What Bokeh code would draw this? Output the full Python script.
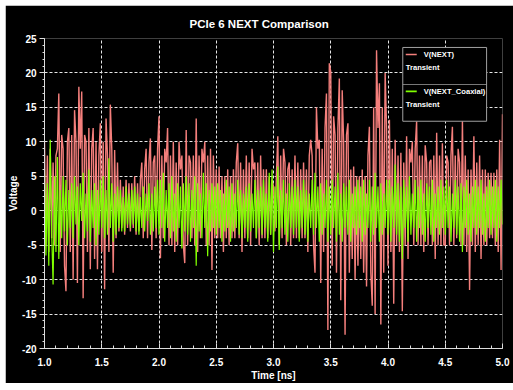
import numpy as np
from bokeh.plotting import figure
from bokeh.models import Range1d, FixedTicker, BoxAnnotation, Label, Spacer
from bokeh.layouts import column, row
from bokeh.embed import file_html
from bokeh.resources import INLINE

title_text = "PCIe 6 NEXT Comparison"
x_label = "Time [ns]"
y_label = "Voltage"
x_ticks = [1.0, 1.5, 2.0, 2.5, 3.0, 3.5, 4.0, 4.5, 5.0]
x_tick_labels = ["1.0", "1.5", "2.0", "2.5", "3.0", "3.5", "4.0", "4.5", "5.0"]
y_ticks = [-20, -15, -10, -5, 0, 5, 10, 15, 20, 25]
y_tick_labels = ["-20", "-15", "-10", "-5", "0", "5", "10", "15", "20", "25"]
series_names = ["V(NEXT)", "V(NEXT_Coaxial)"]
series_sub = ["Transient", "Transient"]
series_colors = ["#f47f7c", "#80ff00"]
t_start, t_end = 1.0, 5.0

# V(NEXT) samples, 0.0125 ns apart
v_next = [
    10, -5, 8, -6, 9, -4, 7, -5, 8, 9, 17, -6, 11, 9, -8, -11.7, 10, 12, -6, 11,
    -10, 14.6, 10, -10.5, 18, 9, 17.3, -12.7, 11, 10, -6, 12, -8.5, 9, 12, -7, 10, -8.5, 8, 12.7,
    -6, 10, -11.4, 13.4, 8, -6, 15.4, 9, -9, 8.8, -4, 7, -3, 4.5, -2.5, 3.5, -3.5, 4.5, -2.5, 4,
    -3, 4, -2.5, 5, -3.5, 4, -3, 4.5, 7, -4, 6, 9, -4, 7, 10.5, -5.7, 7, 8, -4, 9,
    13.7, -6.9, 8, -4, 9, 7, 12, -5, 8, -5, 10, -6, 7, -5, 10, 6, 8, -5, -7.6, 11.7,
    -5, 8, 7, -4, 8, -5, 13.4, -6, 8, -4, 9, 7, 10, -5, 8, -5, 9, -8.6, 8, -4,
    6, -4, 6.4, -4, 5, -6, 5, -4, 6, -5, 5, -4, 6, -4, 7, 9.8, -4, 7, -6, 6,
    -4, 8, -4, 7, -5, 9, 6, 7, -4, 7, -5, 8, -4, 6, -4, 6, -4, 5, -3.5, 4.5,
    3.5, -3, 5, 10.8, -5, 8, -4, 9, 7, -5, 6, 7, -5, 6, -4, 8, -4, 7, -4, 6,
    -4, 7, -4, 6, -6, 8, 10.3, 8, -5, -9, 15, 9, 10.3, -10.5, 9, -6, 12, 17, -17.3, 21.4,
    20.2, -8, 13.7, 11, -9, 12, 19.2, -13, 17.5, 10, -18, 11, 12.7, -9, 6, -7, 6.4, -10, 5, -8,
    5, -7, 6, -9, 5, -11, 8, 12.2, -9, -13.8, 15, -15, 23.3, 12, 18.5, -16.5, 15, -9, 20, 12,
    -8, 13.2, -6, 9, -13.5, 10.3, -5, 8, -6, 8.4, -14.6, 7, -5, 10.8, -7, 9, 7, 10, -5, 9,
    13, -5, 8, -5, 8, -6, 9.5, 7, -5, 7, 7.4, -5, 8, -7, 11.3, -5, 8, -5, 9.8, -5,
    -5, 8, 7, -5, 8, 12.2, -5, 8, -4, 9, 7, -5, 13.2, -5, 8, -6, 6, -11.5, 6, -5,
    10.8, -6, 7, -5, 8, -7, 6, -5, 6, -5, 5.5, -4, 5.5, -4, 5.5, -5, 6, -6, 10.3, -8.6,
    14,
]

# V(NEXT_Coaxial) samples, 0.0125 ns apart
v_coax = [
    6, -6.5, 4, -8, 10.3, -3, -10.7, 5, -6, 7.8, -7, 3, -4, 5, -3, 4.5, -5, 3, -2.5, 4,
    -4, 5, -2, 3.5, -5, 4, -1.5, 5.5, -4, 2.5, -3, 6, -4.5, 3, -2.5, 4, -5, 3, -3.5, 4.5,
    -2.5, 5, -4, 3, -3.5, 7.6, -2.5, 4, -4.5, 2.5, -3.5, 3.5, -2.5, 3, -3, 2, -3, 3.5, -2, 2.5,
    -2.5, 3, -2, 3.5, -3, 2.5, -3.5, 2, -2.5, 3.5, -3, 2.5, -1.5, 4, -3.5, 2.5, -3, 3.5, -2.5, 4.5,
    -3.5, 4.5, -2.5, 5.5, -4.5, 3, -2.5, 4, -4, 5, -3, 2.5, -4.5, 4, -2.5, 3.5, -5.5, 4, -3, 5,
    -3.5, 4, -4.5, 3, -2.5, 5, -8, 4, -3, 2.5, -4, 5.5, -2.5, 4, -6.6, 3, -3, 4, -2.5, 3.5,
    -3.5, 4, -2.5, 3, -4.5, 2.5, -3, 4.5, -2.5, 3.5, -4.5, 4, -3, 2.5, -2.5, 4.5, -3.5, 3, -4, 2.5,
    -2.5, 3.5, -4.5, 4, -3, 2.5, -2.5, 4.5, -4, 3, -2.5, 3.5, -3.5, 4.5, -2.5, 2.5, -4.5, 5.5, -3.5, 6,
    -6, 3.5, -2.5, 6.4, -5.7, 3, -2.5, 4.5, -3.5, 2.5, -4.5, 4, -2.5, 3.5, -3.5, 4.5, -2.5, 3.5, -4.5, 3,
    -2.5, 4.5, -3.5, 3, -4.5, 2.5, -2.5, 4.5, -3.5, 5.5, -2.5, 3.5, -4.5, 4, -3.5, 2.5, -2.5, 4.5, -4.5, 3.5,
    -3.5, 4.5, -2.5, 3.5, -4.5, 5.5, -3.5, 2.5, -4.5, 4, -2.5, 3.5, -3.5, 4.5, -4.5, 2.5, -2.5, 3.5, -3.5, 4.5,
    -2.5, 3.5, -4.5, 4.5, -3.5, 2.5, -2.5, 4.5, -4.5, 3.5, -3.5, 5.5, -2.5, 3.5, -4.5, 4, -3.5, 2.5, -2.5, 4.5,
    -3.5, 4.5, -4.5, 3.5, -2.5, 6.7, -3.5, 4, -4.5, 3.5, -7, 4.5, -2.5, 3.5, -4.5, 5, -3.5, 2.5, -2.5, 4.5,
    -4.5, 3.5, -2.5, 4.5, -3.5, 2.5, -4.5, 4, -2.5, 3.5, -3.5, 4.5, -4.5, 2.5, -2.5, 3.5, -3.5, 4.5, -2.5, 3.5,
    -3.5, 4.5, -2.5, 3.5, -4.5, 2.5, -2.5, 4.5, -3.5, 3.5, -4.5, 4, -6, 3.5, -2.5, 4.5, -3.5, 2.5, -4.5, 3.5,
    -2.5, 4.5, -3.5, 3.5, -2.5, 4.5, -3.5, 2.5, -4.5, 3.5, -2.5, 4.5, -3.5, 3.5, -2.5, 4.5, -4.5, 3.5, -2.5, 4.5,
    -2,
]

time_ns = np.linspace(t_start, t_end, len(v_next))

FONT = "Liberation Sans"
WHITE = "#ffffff"

p = figure(
    width=508, height=378,
    x_range=Range1d(1.0, 5.0), y_range=Range1d(-20, 25),
    output_backend="svg", toolbar_location=None,
    min_border_left=38, min_border_right=11, min_border_top=33, min_border_bottom=34,
    background_fill_color="black", border_fill_color="black",
)
p.outline_line_color = None

p.title.text = title_text
p.title.text_color = WHITE
p.title.text_font = FONT
p.title.text_font_size = "11.5px"
p.title.text_font_style = "bold"
p.title.align = "left"
p.title.offset = 145
p.title.standoff = 18

p.line(time_ns, v_next, line_color=series_colors[0], line_width=1.4)
p.line(time_ns, v_coax, line_color=series_colors[1], line_width=1.2)

x_minor = [round(v, 2) for v in np.arange(1.0, 5.001, 0.1)]
y_minor = list(range(-20, 26))
p.xaxis.ticker = FixedTicker(ticks=x_ticks, minor_ticks=x_minor)
p.yaxis.ticker = FixedTicker(ticks=y_ticks, minor_ticks=y_minor)
p.xaxis.major_label_overrides = {t: l for t, l in zip(x_ticks, x_tick_labels)}
p.yaxis.major_label_overrides = {t: l for t, l in zip(y_ticks, y_tick_labels)}

for ax in (p.xaxis, p.yaxis):
    ax.axis_line_color = "#dddddd"
    ax.major_tick_line_color = "#dddddd"
    ax.minor_tick_line_color = "#dddddd"
    ax.major_label_text_color = WHITE
    ax.major_label_text_font = FONT
    ax.major_label_text_font_size = "10px"
    ax.major_label_text_font_style = "bold"
    ax.axis_label_text_color = WHITE
    ax.axis_label_text_font = FONT
    ax.axis_label_text_font_size = "10px"
    ax.axis_label_text_font_style = "bold"

p.xaxis.axis_label = x_label
p.yaxis.axis_label = y_label
p.xaxis.major_tick_in = 5
p.xaxis.major_tick_out = 0
p.xaxis.minor_tick_in = 3
p.xaxis.minor_tick_out = 0
p.xaxis.major_label_standoff = 9
p.xaxis.axis_label_standoff = 1
p.yaxis.major_tick_in = 0
p.yaxis.major_tick_out = 5
p.yaxis.minor_tick_in = 0
p.yaxis.minor_tick_out = 2
p.yaxis.major_label_standoff = 3
p.yaxis.axis_label_standoff = 0

for g in (p.xgrid, p.ygrid):
    g.grid_line_color = "#e6e6e6"
    g.grid_line_dash = "3 2"
    g.grid_line_width = 1

# legend drawn as annotations
p.add_layout(BoxAnnotation(left=4.129, right=4.861, bottom=12.99, top=23.70,
                           fill_color="black", fill_alpha=1.0,
                           line_color="#a0a0a0", line_width=1, line_alpha=1.0))
p.add_layout(BoxAnnotation(left=4.129, right=4.861, bottom=18.24, top=18.36,
                           fill_color="#a0a0a0", fill_alpha=1.0, line_alpha=0))
sample_y = [22.68, 17.33]
sub_y = [20.76, 15.40]
for name, sub, col, yy, sy in zip(series_names, series_sub, series_colors, sample_y, sub_y):
    p.add_layout(BoxAnnotation(left=4.155, right=4.251, bottom=yy - 0.12, top=yy + 0.12,
                               fill_color=col, fill_alpha=1.0, line_alpha=0))
    p.add_layout(Label(x=4.312, y=yy, text=name, text_color=WHITE, text_font=FONT,
                       text_font_size="7.6px", text_font_style="bold",
                       text_align="left", text_baseline="middle"))
    p.add_layout(Label(x=4.155, y=sy, text=sub, text_color=WHITE, text_font=FONT,
                       text_font_size="7.6px", text_font_style="bold",
                       text_align="left", text_baseline="middle"))

layout = column(Spacer(height=5, width=513), row(Spacer(width=5, height=378), p))
open("out.html", "w").write(file_html(layout, INLINE))
